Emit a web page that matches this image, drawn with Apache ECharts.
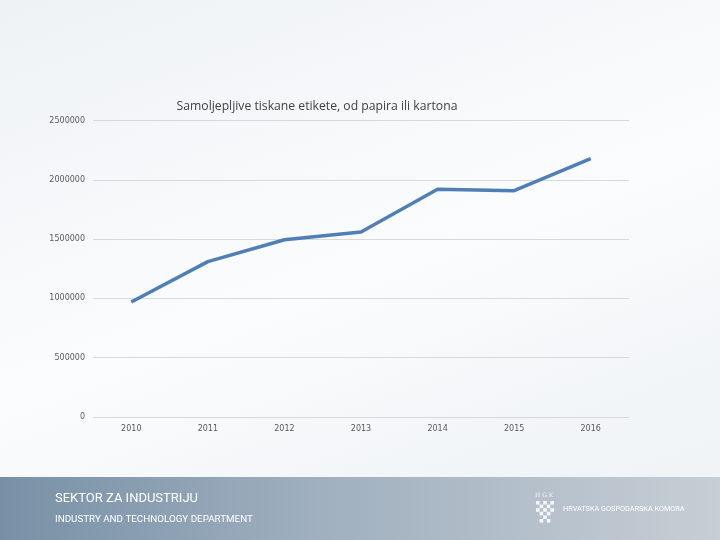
<!DOCTYPE html>
<html>
<head>
<meta charset="utf-8">
<script src="https://cdn.jsdelivr.net/npm/echarts@6/dist/echarts.min.js"></script>
<style>
html,body{margin:0;padding:0;}
body{width:720px;height:540px;overflow:hidden;
background:linear-gradient(160deg,#eef2f5 0%,#f6f8fa 30%,#fbfcfd 50%,#f3f6f8 75%,#eef2f5 100%);}
#chart{width:720px;height:540px;}
</style>
</head>
<body>
<div id="chart"></div>
<script>
var titleText = 'Samoljepljive tiskane etikete, od papira ili kartona';
var categories = ['2010', '2011', '2012', '2013', '2014', '2015', '2016'];
var values = [970000, 1310000, 1495000, 1560000, 1920000, 1908000, 2178000];
var yTicks = [0, 500000, 1000000, 1500000, 2000000, 2500000];

var chart = echarts.init(document.getElementById('chart'), null, {renderer: 'canvas'});

var logoCells = [];
var cs = 3.6;
for (var r = 0; r < 6; r++) {
  for (var c = 0; c < 5; c++) {
    if ((r + c) % 2 === 0) {
      if (r >= 4 && (c === 0 || c === 4)) continue;
      logoCells.push({type: 'rect', shape: {x: 536 + c * cs, y: 501 + r * cs, width: cs, height: cs},
        style: {fill: 'rgba(255,255,255,0.85)'}, silent: true});
    }
  }
}

var option = {
  animation: false,
  backgroundColor: 'transparent',
  title: {
    text: titleText,
    left: 312, top: 96, textAlign: 'center',
    textStyle: {fontFamily: 'Open Sans', fontSize: 12.2, fontWeight: 'normal', color: '#404040'}
  },
  grid: {left: 93, right: 91, top: 120.5, bottom: 123, containLabel: false},
  xAxis: {
    type: 'category',
    data: categories,
    boundaryGap: true,
    axisLine: {show: false},
    axisTick: {show: false},
    axisLabel: {margin: 8, fontSize: 8, color: '#595959', fontFamily: 'DejaVu Sans'}
  },
  yAxis: {
    type: 'value',
    min: 0, max: 2500000, interval: 500000,
    axisLine: {show: false},
    axisTick: {show: false},
    axisLabel: {margin: 8, fontSize: 8, color: '#595959', fontFamily: 'DejaVu Sans',
      formatter: function (v) { return yTicks.indexOf(v) >= 0 ? String(v) : ''; }},
    splitLine: {lineStyle: {color: '#d9d9d9', width: 1}}
  },
  series: [{
    type: 'line',
    data: values,
    symbol: 'none',
    lineStyle: {color: '#4f7fb5', width: 3.5},
    itemStyle: {color: '#4f7fb5'}
  }],
  graphic: [
    {type: 'rect', left: 0, top: 477, shape: {width: 720, height: 63}, silent: true, z: -1,
      style: {fill: new echarts.graphic.LinearGradient(0, 0, 1, 0, [
        {offset: 0, color: '#7890a6'}, {offset: 0.45, color: '#a0b0bf'}, {offset: 1, color: '#c7ced5'}])}},
    {type: 'text', left: 55, top: 492, silent: true,
      style: {text: 'SEKTOR ZA INDUSTRIJU', fill: '#ffffff', fontSize: 13, fontFamily: 'Roboto, sans-serif'}},
    {type: 'text', left: 55, top: 515, silent: true,
      style: {text: 'INDUSTRY AND TECHNOLOGY DEPARTMENT', fill: '#ffffff', fontSize: 9.8, fontFamily: 'Roboto, sans-serif'}},
    {type: 'text', left: 535, top: 492, silent: true,
      style: {text: 'H G K', fill: 'rgba(255,255,255,0.85)', fontSize: 6, fontFamily: 'DejaVu Serif'}},
    {type: 'text', left: 563, top: 506, silent: true,
      style: {text: 'HRVATSKA GOSPODARSKA KOMORA', fill: '#ffffff', fontSize: 7.3, fontFamily: 'Roboto, sans-serif'}},
    {type: 'group', silent: true, children: logoCells}
  ]
};
chart.setOption(option);
</script>
</body>
</html>
